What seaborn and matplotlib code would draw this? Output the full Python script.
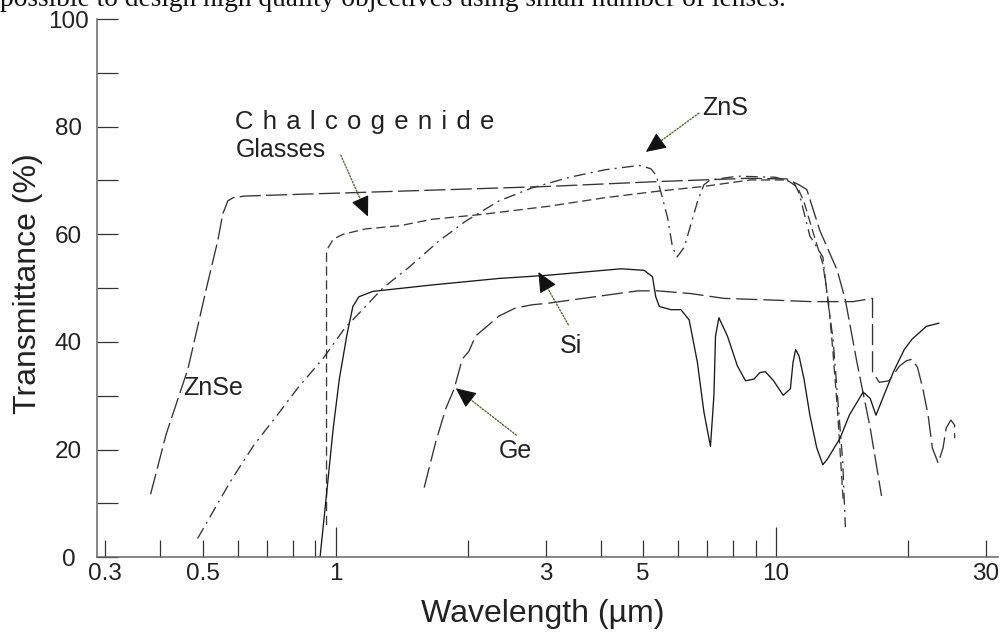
import numpy as np
import pandas as pd
import matplotlib
matplotlib.use("Agg")
import matplotlib.pyplot as plt
import seaborn as sns

# ---------------- data (wavelength in um, transmittance in %) ----------------
znse_wl = [0.380, 0.412, 0.462, 0.512, 0.540, 0.554, 0.569, 0.585, 0.620, 0.875, 1.06,
           3.05, 5.4, 8.6, 10.6, 11.3, 11.77, 12.6, 13.8, 14.4, 15.3, 16.4, 17.4]
znse_t = [11.7, 22.8, 35.0, 50.9, 58.8, 63.7, 66.2, 66.8, 67.1, 67.5, 67.7,
          68.9, 69.8, 70.4, 70.3, 69.2, 68.3, 60.7, 53.3, 47.8, 36.2, 24.0, 11.4]

chalc_wl = [0.954, 0.954, 0.988, 1.04, 1.17, 1.40, 1.66, 2.15, 3.04, 4.09, 5.39, 6.87,
            8.76, 10.6, 11.2, 11.6, 12.2, 12.8, 13.2, 13.5, 13.8, 14.05, 14.25]
chalc_t = [6.0, 57.0, 59.1, 60.0, 61.0, 61.6, 62.8, 63.7, 65.2, 66.8, 68.0, 68.9,
           70.1, 70.1, 68.8, 66.0, 60.0, 54.5, 47.0, 38.0, 28.0, 18.0, 10.0]

zns_wl = [0.486, 0.578, 0.653, 0.737, 0.818, 0.940, 1.05, 1.077, 1.28, 1.47, 1.72, 1.98,
          2.35, 2.79, 3.4, 4.1, 4.9, 5.2, 5.35, 5.5, 5.68, 5.83, 5.97, 6.2, 6.42, 6.65,
          6.87, 7.1, 8.2, 10.0, 11.0, 11.3, 11.96, 12.8, 13.1, 13.5, 13.85, 14.2, 14.4]
zns_t = [3.5, 14.2, 20.9, 26.4, 31.3, 37.1, 42.6, 43.5, 50.0, 53.9, 58.8, 62.5,
         66.2, 68.6, 70.6, 72.0, 72.8, 72.2, 71.0, 67.5, 63.1, 57.6, 55.8, 57.6, 61.9, 66.2,
         69.2, 70.1, 70.8, 70.6, 69.6, 67.7, 59.7, 55.8, 48.4, 40.5, 28.9, 17.9, 5.6]

si_wl = [0.922, 0.954, 0.988, 1.02, 1.06, 1.095, 1.13, 1.216, 1.66, 2.35, 3.04, 4.46,
         5.03, 5.25, 5.34, 5.44, 5.78, 6.09, 6.36, 6.64, 6.87, 7.11, 7.24, 7.30, 7.43,
         7.77, 8.18, 8.54, 8.93, 9.2, 9.47, 9.89, 10.4, 10.8, 10.95, 11.1, 11.3, 11.6,
         11.96, 12.4, 12.8, 13.1, 14.0, 14.7, 15.8, 16.4, 16.9, 17.5, 18.5, 19.6, 20.4,
         22.0, 23.5]
si_t = [0.0, 11.7, 24.0, 33.1, 41.1, 46.6, 48.4, 49.4, 50.6, 51.8, 52.4, 53.6,
        53.3, 52.1, 48.4, 46.6, 46.0, 46.0, 44.1, 36.2, 27.0, 20.6, 30.1, 41.1, 44.5,
        41.1, 35.6, 32.8, 33.1, 34.3, 34.5, 32.8, 30.1, 31.3, 36.2, 38.6, 37.4, 33.1,
        26.4, 20.3, 17.2, 18.2, 22.1, 26.4, 30.7, 29.5, 26.4, 29.5, 34.4, 38.6, 40.5,
        42.9, 43.5]

ge_wl = [1.59, 1.69, 1.78, 1.86, 1.94, 2.01, 2.08, 2.23, 2.35, 2.56, 2.79, 3.04, 4.86,
         5.39, 6.4, 7.63, 9.73, 12.0, 15.0, 16.6, 16.6, 17.2, 18.1, 19.1, 19.8, 20.4,
         21.0, 21.6, 22.2, 22.7, 23.4, 24.0, 24.4, 25.0, 25.5, 25.5]
ge_t = [12.95, 21.5, 27.6, 31.3, 36.8, 38.3, 41.1, 43.2, 44.8, 46.3, 46.9, 47.2, 49.5,
        49.5, 49.0, 48.1, 47.8, 47.5, 47.5, 48.1, 34.4, 32.5, 32.8, 35.5, 36.5, 36.8,
        35.3, 31.3, 26.4, 20.3, 17.5, 20.3, 24.0, 25.5, 24.6, 22.1]

x_major = [1, 10]
x_major_labels = ["1", "10"]
x_minor = [0.3, 0.4, 0.5, 0.6, 0.7, 0.8, 0.9, 2, 3, 4, 5, 6, 7, 8, 9, 20, 30]
x_minor_labels = ["0.3", "", "0.5", "", "", "", "", "", "3", "", "5", "", "", "", "", "", "30"]
y_major = [0, 20, 40, 60, 80, 100]
y_minor = [10, 30, 50, 70, 90]

series = {"ZnSe": (znse_wl, znse_t), "Chalcogenide": (chalc_wl, chalc_t),
          "ZnS": (zns_wl, zns_t), "Si": (si_wl, si_t), "Ge": (ge_wl, ge_t)}
df = pd.concat([pd.DataFrame({"material": k, "wavelength": v[0], "transmittance": v[1]})
                for k, v in series.items()], ignore_index=True)

styles = {"ZnSe": (0, (16, 4)), "Chalcogenide": (0, (7, 3.5)),
          "ZnS": (0, (9, 4, 1.5, 4)), "Si": "-", "Ge": (0, (16, 4.5))}
colors = {"ZnSe": "#333333", "Chalcogenide": "#3a3a3a", "ZnS": "#333333",
          "Si": "#1a1a1a", "Ge": "#333333"}

# ---------------- figure ----------------
sns.set_style("ticks")
plt.rcParams["font.family"] = ["Liberation Sans", "DejaVu Sans"]

W, H = 1001, 632
ax_l, ax_r, ax_b, ax_t = 97, 998, 557.3, 19
fig = plt.figure(figsize=(W / 100, H / 100), dpi=100)
ax = fig.add_axes([ax_l / W, (H - ax_b) / H, (ax_r - ax_l) / W, (ax_b - ax_t) / H])

for m in series:
    sub = df[df["material"] == m]
    sns.lineplot(data=sub, x="wavelength", y="transmittance", sort=False,
                 estimator=None, ax=ax, color=colors[m], linewidth=0.95)
    ax.lines[-1].set_linestyle(styles[m])

ax.set_xscale("log")
ax.set_xlim(0.2871, 32.0)
ax.set_ylim(0, 100)

ax.set_xticks(x_major, labels=x_major_labels)
ax.set_xticks(x_minor, labels=x_minor_labels, minor=True)
ax.set_yticks(y_major, labels=[str(v) for v in y_major])
ax.set_yticks(y_minor, minor=True)

ax.tick_params(axis="x", which="major", direction="in", length=21.5, width=0.9,
               labelsize=17.5, pad=4, color="#333333", labelcolor="#222222")
ax.tick_params(axis="x", which="minor", direction="in", length=12.2, width=0.9,
               labelsize=17.5, pad=4, color="#333333", labelcolor="#222222")
ax.tick_params(axis="y", which="both", direction="in", length=15, width=0.9,
               labelsize=17.5, pad=20.5, color="#333333", labelcolor="#222222")
for lab in ax.get_yticklabels():
    lab.set_horizontalalignment("center")

sns.despine(ax=ax)
for s in ("left", "bottom"):
    ax.spines[s].set_color("#666666")
    ax.spines[s].set_linewidth(1.1)

ax_w, ax_h = ax_r - ax_l, ax_b - ax_t
ax.set_xlabel("Wavelength (µm)", fontsize=23, color="#222222")
ax.xaxis.label.set_va("baseline")
ax.xaxis.set_label_coords((543 - ax_l) / ax_w, (ax_b - 622) / ax_h)
ax.set_ylabel("Transmittance (%)", fontsize=23, color="#222222")
ax.yaxis.label.set_va("center")
ax.yaxis.set_label_coords((28 - ax_l) / ax_w, (ax_b - 284) / ax_h)

# ---------------- annotations ----------------
txt_kw = dict(fontsize=18, color="#222222", ha="left", va="baseline")
ax.text(0.450, 30.15, "ZnSe", **txt_kw)
ax.text(2.35, 18.45, "Ge", **txt_kw)
ax.text(3.24, 37.95, "Si", **txt_kw)
ax.text(6.82, 82.2, "ZnS", **txt_kw)
hs = " \u200a"
ax.text(0.5925, 79.6, hs.join("Chalcogenide"), fontsize=18.5, color="#222222",
        ha="left", va="baseline")
ax.text(0.5925, 74.4, "Glasses", fontsize=18, color="#222222", ha="left", va="baseline")

arrows = [((1.028, 74.7), (1.185, 63.3)),
          ((6.69, 82.5), (5.07, 75.3)),
          ((3.38, 43.2), (2.89, 53.0)),
          ((2.575, 22.7), (1.876, 31.4))]
for start, tip in arrows:
    ax.annotate("", xy=tip, xytext=start,
                arrowprops=dict(arrowstyle="-", linestyle=(0, (1, 1.3)),
                                color="#4f6b2a", lw=1.0, shrinkA=0, shrinkB=6))
    s_disp = ax.transData.transform(start)
    t_disp = ax.transData.transform(tip)
    d = t_disp - s_disp
    d = d / np.hypot(*d)
    back = ax.transData.inverted().transform(t_disp - 14 * d)
    ax.annotate("", xy=tip, xytext=back,
                arrowprops=dict(arrowstyle="-|>,head_length=0.7,head_width=0.32",
                                color="#111111", lw=0.8, shrinkA=0, shrinkB=0,
                                mutation_scale=18))

# cropped running text of the source document at the top
top = fig.text(0.0, 1 - 6 / H, "possible to design high quality objectives using small number of lenses.",
               fontfamily=["Liberation Serif", "DejaVu Serif"], fontsize=18, color="#111111",
               ha="left", va="baseline")
r = fig.canvas.get_renderer()
w = top.get_window_extent(r).width
top.set_fontsize(18 * 785 / w)

fig.savefig("out.png", dpi=100)
